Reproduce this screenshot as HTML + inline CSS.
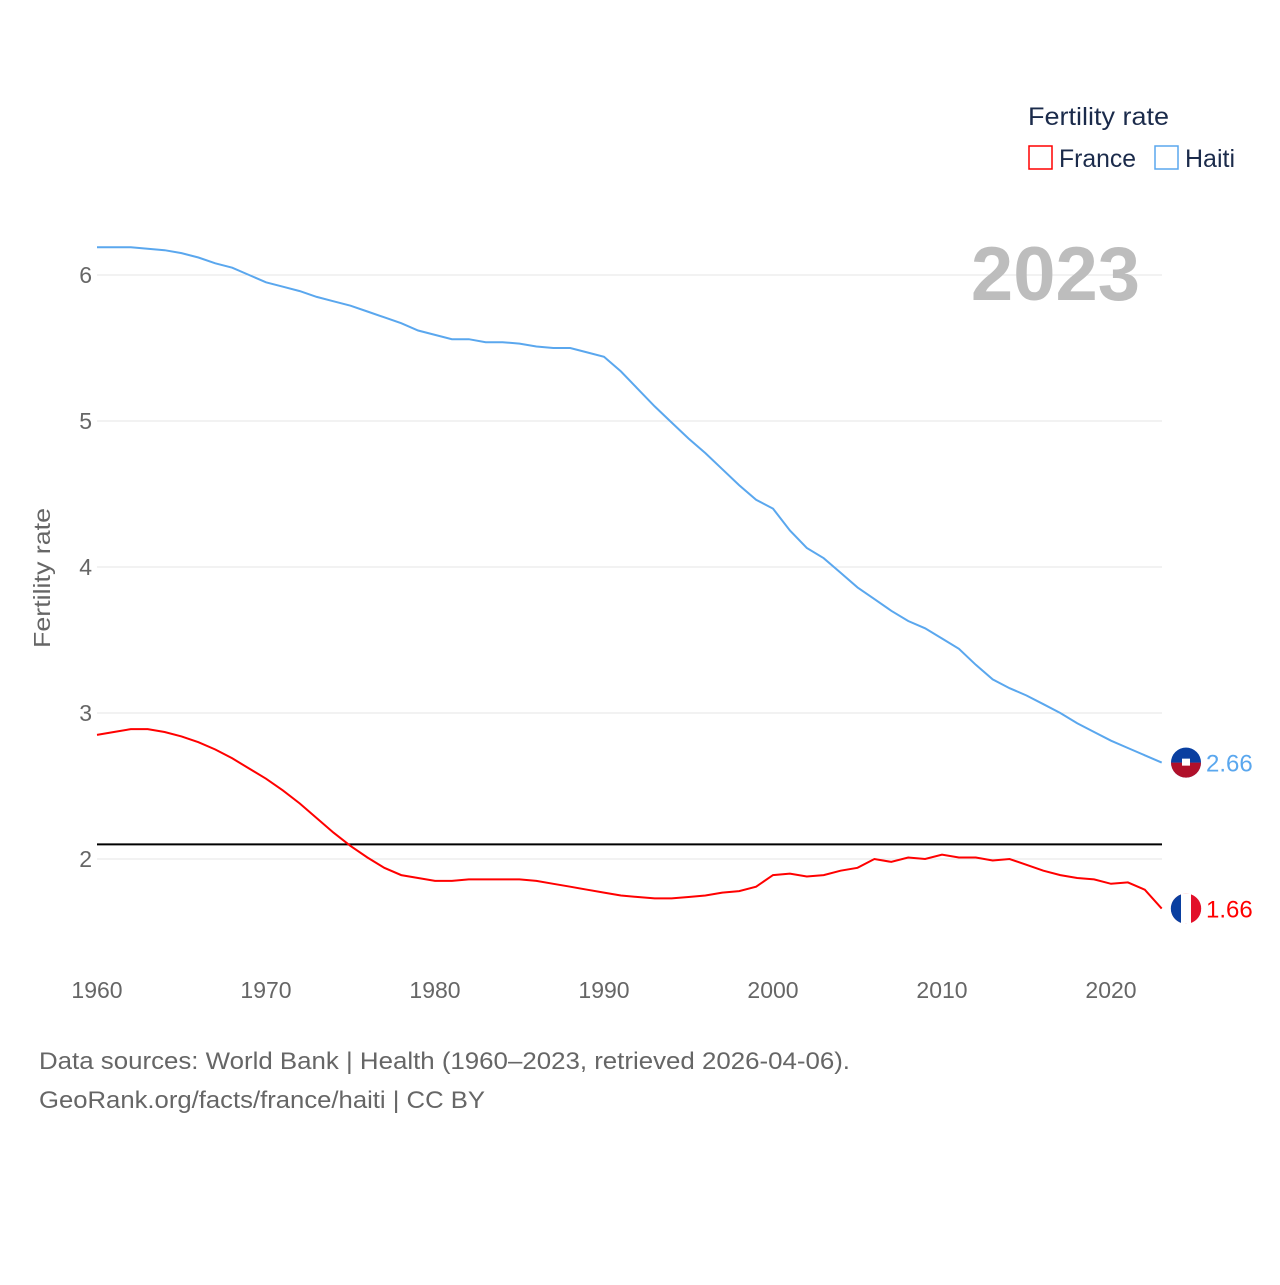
<!DOCTYPE html>
<html><head><meta charset="utf-8">
<style>
body{margin:0;background:#fff;}
svg text{font-family:"Liberation Sans",sans-serif;}
</style></head>
<body>
<svg id="chart" width="1280" height="1280" xmlns="http://www.w3.org/2000/svg">
<rect width="1280" height="1280" fill="#fff"/>
<g id="grid"></g>
<g id="yticks"></g>
<g id="xticks"></g>
<text x="0" y="0" transform="translate(50,578) rotate(-90)" text-anchor="middle" font-size="23" fill="#666" textLength="140" lengthAdjust="spacingAndGlyphs">Fertility rate</text>
<text x="1140" y="300" text-anchor="end" font-size="76" font-weight="bold" fill="#bdbdbd">2023</text>
<g>
<text x="1028" y="125" font-size="25" fill="#1b2b4b" textLength="141" lengthAdjust="spacingAndGlyphs">Fertility rate</text>
<rect x="1029" y="146" width="23" height="23" fill="none" stroke="#ff0000" stroke-width="1.5"/>
<text x="1059" y="167" font-size="25" fill="#1b2b4b" textLength="77" lengthAdjust="spacingAndGlyphs">France</text>
<rect x="1155" y="146" width="23" height="23" fill="none" stroke="#5aa7ee" stroke-width="1.5"/>
<text x="1185" y="167" font-size="25" fill="#1b2b4b">Haiti</text>
</g>
<g id="series"></g>
<text x="39" y="1069" font-size="24" fill="#666" textLength="811" lengthAdjust="spacingAndGlyphs">Data sources: World Bank | Health (1960–2023, retrieved 2026-04-06).</text>
<text x="39" y="1108" font-size="24" fill="#666" textLength="446" lengthAdjust="spacingAndGlyphs">GeoRank.org/facts/france/haiti | CC BY</text>
</svg>
<script>
const years=[];for(let y=1960;y<=2023;y++)years.push(y);
const haiti=[6.19,6.19,6.19,6.18,6.17,6.15,6.12,6.08,6.05,6.00,5.95,5.92,5.89,5.85,5.82,5.79,5.75,5.71,5.67,5.62,5.59,5.56,5.56,5.54,5.54,5.53,5.51,5.50,5.50,5.47,5.44,5.34,5.22,5.10,4.99,4.88,4.78,4.67,4.56,4.46,4.40,4.25,4.13,4.06,3.96,3.86,3.78,3.70,3.63,3.58,3.51,3.44,3.33,3.23,3.17,3.12,3.06,3.00,2.93,2.87,2.81,2.76,2.71,2.66];
const france=[2.85,2.87,2.89,2.89,2.87,2.84,2.80,2.75,2.69,2.62,2.55,2.47,2.38,2.28,2.18,2.09,2.01,1.94,1.89,1.87,1.85,1.85,1.86,1.86,1.86,1.86,1.85,1.83,1.81,1.79,1.77,1.75,1.74,1.73,1.73,1.74,1.75,1.77,1.78,1.81,1.89,1.90,1.88,1.89,1.92,1.94,2.00,1.98,2.01,2.00,2.03,2.01,2.01,1.99,2.00,1.96,1.92,1.89,1.87,1.86,1.83,1.84,1.79,1.66];
const yTicks=[2,3,4,5,6];
const xTicks=[1960,1970,1980,1990,2000,2010,2020];
const replacement=2.1;
const NS="http://www.w3.org/2000/svg";
const X=y=>97+(y-1960)*16.9;
const Y=v=>859-(v-2)*146;
function el(t,a,p){const e=document.createElementNS(NS,t);for(const k in a)e.setAttribute(k,a[k]);p.appendChild(e);return e;}
const grid=document.getElementById('grid'),yt=document.getElementById('yticks'),xt=document.getElementById('xticks'),ser=document.getElementById('series');
yTicks.forEach(v=>{
 const l=el('line',{x1:97,x2:1162,y1:Y(v),y2:Y(v),stroke:'#e6e6e6','stroke-width':1},grid);
 
 
 const t=el('text',{x:92,y:Y(v)+8,'text-anchor':'end','font-size':23,fill:'#666'},yt);t.textContent=v;
 
 
});
xTicks.forEach(v=>{
 const t=el('text',{x:X(v),y:998,'text-anchor':'middle','font-size':23,fill:'#666'},xt);t.textContent=v;
 
 
});
const rl=el('line',{x1:97,x2:1162,y1:Y(replacement),y2:Y(replacement),stroke:'#000','stroke-width':2},ser);


function line(data,color,name){
 const p=el('path',{d:data.map((v,i)=>(i?'L':'M')+X(years[i]).toFixed(1)+','+Y(v).toFixed(1)).join(''),fill:'none',stroke:color,'stroke-width':2},ser);
 
 
 const last=data[data.length-1];
 const cy=Y(last);
 const c=el('circle',{cx:1186,cy:cy,r:15,fill:color},ser);
 
 
 if(name==='haiti'){
  el('path',{d:`M1171,${cy} A15,15 0 0 1 1201,${cy} Z`,fill:'#0a3fa0'},ser);
  el('path',{d:`M1171,${cy} A15,15 0 0 0 1201,${cy} Z`,fill:'#b0102a'},ser);
  el('rect',{x:1182,y:cy-4,width:8,height:7,fill:'#fff'},ser);
 }else{
  el('path',{d:`M1181,${cy-14.2} A15,15 0 0 0 1181,${cy+14.2} Z`,fill:'#0a3fa0'},ser);
  el('rect',{x:1181,y:cy-15,width:10,height:30,fill:'#fff'},ser);
  el('path',{d:`M1191,${cy-14.2} A15,15 0 0 1 1191,${cy+14.2} Z`,fill:'#e2102a'},ser);
 }
 const t=el('text',{x:1206,y:cy+9,'font-size':24,fill:color},ser);t.textContent=last.toFixed(2);
 
 
}
line(haiti,'#5aa7ee','haiti');
line(france,'#ff0000','france');
</script>
</body></html>
